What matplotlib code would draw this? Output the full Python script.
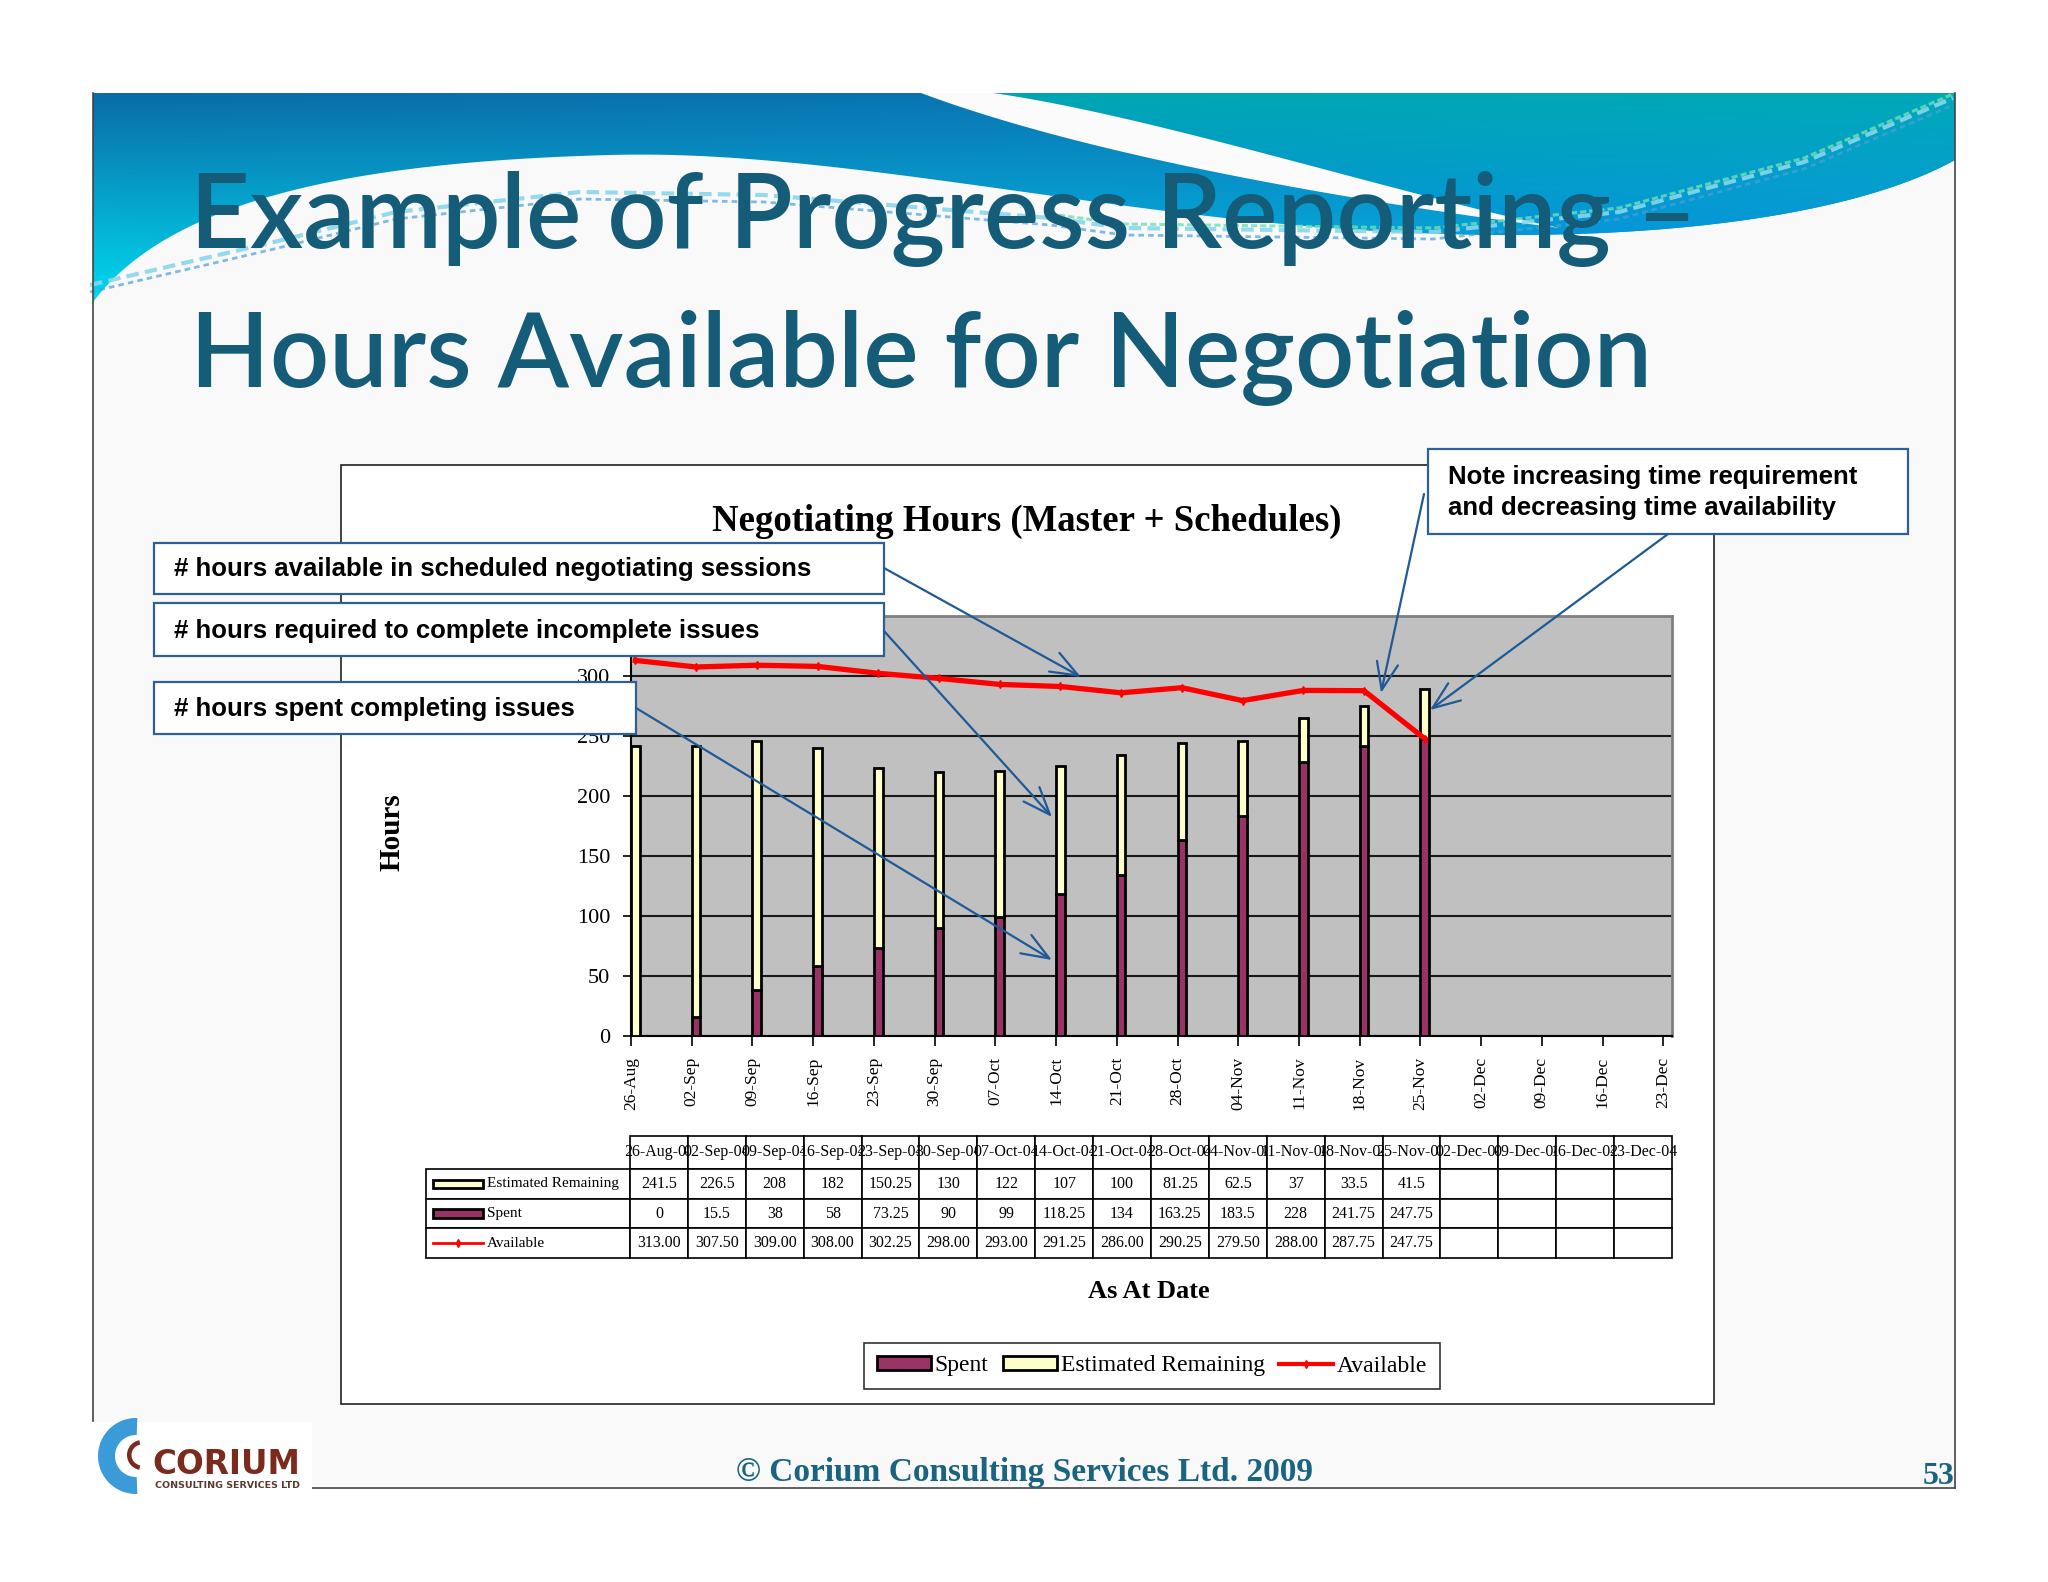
import numpy as np
import matplotlib
matplotlib.use('Agg')
import matplotlib.pyplot as plt
from matplotlib.patches import Polygon, Rectangle, Wedge, Patch
from matplotlib.table import Table
from matplotlib.lines import Line2D
from matplotlib.colors import to_rgb

# ---------------- data ----------------
weeks = ['26-Aug', '02-Sep', '09-Sep', '16-Sep', '23-Sep', '30-Sep', '07-Oct', '14-Oct',
         '21-Oct', '28-Oct', '04-Nov', '11-Nov', '18-Nov', '25-Nov', '02-Dec', '09-Dec',
         '16-Dec', '23-Dec']
year_suffix = '-04'
estimated_remaining = [241.5, 226.5, 208, 182, 150.25, 130, 122, 107, 100, 81.25, 62.5, 37, 33.5, 41.5]
spent = [0, 15.5, 38, 58, 73.25, 90, 99, 118.25, 134, 163.25, 183.5, 228, 241.75, 247.75]
available = [313.00, 307.50, 309.00, 308.00, 302.25, 298.00, 293.00, 291.25, 286.00, 290.25,
             279.50, 288.00, 287.75, 247.75]
y_ticks = [0, 50, 100, 150, 200, 250, 300]
series_names = ['Spent', 'Estimated Remaining', 'Available']

SERIF = 'Liberation Serif'
SANS = 'Liberation Sans'
plt.rcParams['font.family'] = [SERIF, 'DejaVu Sans']

C_SPENT = '#993366'
C_REM = '#FFFFCC'
C_AVAIL = '#FF0000'

W, H = 2048, 1582
fig = plt.figure(figsize=(W / 100, H / 100), dpi=100)
fig.patch.set_facecolor('white')

# ---------------- background / slide ----------------
bg = fig.add_axes([0, 0, 1, 1])
bg.set_zorder(0)
bg.set_xlim(0, W)
bg.set_ylim(H, 0)
bg.axis('off')

bg.add_patch(Rectangle((93, 93), 1862, 1393, fc='#F9F9F9', ec='none', zorder=0))


def bez(p0, c1, c2, p3, n=60):
    t = np.linspace(0, 1, n)[:, None]
    p0, c1, c2, p3 = map(np.array, (p0, c1, c2, p3))
    return (1 - t) ** 3 * p0 + 3 * (1 - t) ** 2 * t * c1 + 3 * (1 - t) * t ** 2 * c2 + t ** 3 * p3


# banner lower boundary (right -> left)
b1 = bez((1955, 160), (1850, 218), (1650, 240), (1450, 234))
b2 = bez((1450, 234), (1150, 228), (850, 148), (610, 155))
b3 = bez((610, 155), (350, 162), (170, 200), (93, 302))
banner = np.vstack([[(93, 93), (1955, 93)], b1, b2, b3])
banner_patch = Polygon(banner, closed=True, fc='none', ec='none')
bg.add_patch(banner_patch)


def grad_img(TL, TR, BL, BR, nx=300, ny=80):
    xs = np.linspace(0, 1, nx)[None, :, None]
    ys = np.linspace(0, 1, ny)[:, None, None]
    TL, TR, BL, BR = (np.array(to_rgb(c)) for c in (TL, TR, BL, BR))
    return (1 - xs) * (1 - ys) * TL + xs * (1 - ys) * TR + (1 - xs) * ys * BL + xs * ys * BR


im1 = bg.imshow(grad_img('#0A6CA6', '#0A7EC0', '#00DDF2', '#05A8E0'),
                extent=[93, 1955, 310, 93], aspect='auto', zorder=1, interpolation='bilinear')
im1.set_clip_path(banner_patch)

# teal region right of swoosh
up_edge = bez((993, 93), (1150, 115), (1400, 195), (1560, 228))
teal = np.vstack([[(1955, 93)], b1[:], bez((1450, 234), (1500, 232), (1530, 230), (1560, 228)),
                  up_edge[::-1]])
teal_patch = Polygon(teal, closed=True, fc='none', ec='none')
bg.add_patch(teal_patch)
im2 = bg.imshow(grad_img('#00A6B2', '#00A9B8', '#0490D8', '#0898DC'),
                extent=[993, 1955, 240, 93], aspect='auto', zorder=1.5, interpolation='bilinear')
im2.set_clip_path(teal_patch)

# white swoosh
low_edge = bez((1560, 228), (1380, 205), (1100, 160), (921, 93))
sw = np.vstack([[(921, 93)], up_edge, low_edge])
bg.add_patch(Polygon(sw, closed=True, fc='#FBFBFB', ec='none', zorder=2))

# decorative dashed lines
dx = np.array([90, 274, 396, 580, 764, 1050, 1124, 1433, 1619, 1804, 1953])
dy = np.array([285, 242, 212, 192, 195, 218, 228, 232, 212, 162, 98])
bg.plot(dx, dy, ls=(0, (3, 1.5)), color='#8AD6EC', lw=3, alpha=0.9, zorder=3)
bg.plot(dx, dy + 7, ls=(0, (2, 1.5)), color='#4C9FDC', lw=2, alpha=0.7, zorder=3)
bg.plot(dx[5:], dy[5:] - 4, ls=(0, (2, 1)), color='#6FE0B0', lw=2.2, alpha=0.8, zorder=3)

# slide borders
bg.plot([93, 93], [93, 1421], color='#444', lw=1.2, zorder=4)
bg.plot([1955, 1955], [93, 1488], color='#444', lw=1.2, zorder=4)
bg.plot([312, 1955], [1488, 1488], color='#444', lw=1.2, zorder=4)

# slide title
TITLE_C = '#145C78'
bg.text(190, 248, 'Example of Progress Reporting \u2013', fontsize=75, family='Lato',
        fontweight='semibold', color=TITLE_C, va='baseline', ha='left', zorder=5)
bg.text(190, 387, 'Hours Available for Negotiation', fontsize=75, family='Lato',
        fontweight='semibold', color=TITLE_C, va='baseline', ha='left', zorder=5)

# chart frame
bg.add_patch(Rectangle((341, 465), 1373, 939, fc='white', ec='#222', lw=1.2, zorder=6))
bg.text(1027, 521, 'Negotiating Hours (Master + Schedules)', ha='center', va='center',
        fontsize=26.5, fontweight='bold', family=SERIF, zorder=7)
bg.text(392, 832, 'Hours', rotation=90, ha='center', va='center', fontsize=21,
        fontweight='bold', family=SERIF, zorder=7)
bg.text(1149, 1292, 'As At Date', ha='center', va='center', fontsize=19,
        fontweight='bold', family=SERIF, zorder=7)

# footer
bg.text(1025, 1472, '\u00a9 Corium Consulting Services Ltd. 2009', ha='center', va='center',
        fontsize=24, fontweight='bold', family=SERIF, color='#1A6482', zorder=7)
bg.text(1955, 1476, '53', ha='right', va='center', fontsize=23, fontweight='bold',
        family=SERIF, color='#1A6482', zorder=7)

# logo
bg.add_patch(Rectangle((85, 1422), 227, 75, fc='white', ec='none', zorder=6))
bg.add_patch(Wedge((136, 1456), 38, 88, 272, width=17, fc='#3B9BD8', ec='none', zorder=7))
bg.add_patch(Wedge((142, 1455), 15, 100, 260, width=4.5, fc='#7B2A1E', ec='none', zorder=7))
bg.text(152, 1474, 'CORIUM', fontsize=23.5, fontweight='bold', family='DejaVu Sans',
        color='#7B2A1E', va='baseline', ha='left', zorder=7)
bg.text(155, 1488, 'CONSULTING SERVICES LTD', fontsize=6.8, fontweight='bold',
        family='DejaVu Sans', color='#5A3A30', va='baseline', ha='left', zorder=7)

# ---------------- chart ----------------
ax = fig.add_axes([631 / W, 1 - 1036 / H, (1672 - 631) / W, (1036 - 616) / H])
ax.set_zorder(2)
ax.set_facecolor('#C0C0C0')
x = np.arange(len(spent))
ax.bar(x, spent, width=1 / 7, align='edge', color=C_SPENT, edgecolor='black', linewidth=2,
       zorder=3, label=series_names[0])
ax.bar(x, estimated_remaining, width=1 / 7, bottom=spent, align='edge', color=C_REM,
       edgecolor='black', linewidth=2, zorder=3, label=series_names[1])
ax.plot(np.arange(len(available)) + 1 / 14, available, color=C_AVAIL, lw=3.8, marker='d',
        ms=4, zorder=4, label=series_names[2])
ax.set_xlim(0, len(weeks) - 1 + 1 / 7)
ax.set_ylim(0, 350)
ax.set_yticks(y_ticks)
ax.set_xticks(np.arange(len(weeks)))
ax.set_xticklabels(weeks, rotation=90)
ax.yaxis.grid(True, color='#1A1A1A', lw=1.5)
ax.set_axisbelow(True)
ax.tick_params(axis='y', labelsize=16, length=6, width=1.2, pad=9)
ax.tick_params(axis='x', labelsize=12.5, length=7, width=1.2, pad=8)
for s in ('top', 'right'):
    ax.spines[s].set_color('#808080')
    ax.spines[s].set_linewidth(2)
for s in ('left', 'bottom'):
    ax.spines[s].set_color('black')
    ax.spines[s].set_linewidth(1.5)

# ---------------- data table ----------------
T_L, T_R, T_T, T_B = 426, 1672, 1136, 1258
tax = fig.add_axes([T_L / W, 1 - T_B / H, (T_R - T_L) / W, (T_B - T_T) / H])
tax.set_zorder(2)
tax.axis('off')
tw, th = T_R - T_L, T_B - T_T
lab_w = 204 / tw
col_w = (1 - lab_w) / len(weeks)
hdr_h = 33 / th
row_h = (1 - hdr_h) / 3
tbl = Table(tax, bbox=[lab_w, 0, 1 - lab_w, 1])
for j, wk in enumerate(weeks):
    tbl.add_cell(0, j, width=col_w, height=hdr_h, text=wk + year_suffix, loc='center',
                 facecolor='white')
rows = [(series_names[1], [f'{v:g}' for v in estimated_remaining]),
        (series_names[0], [f'{v:g}' for v in spent]),
        (series_names[2], [f'{v:.2f}' for v in available])]
for i, (lab, vals) in enumerate(rows, start=1):
    c = tbl.add_cell(i, -1, width=lab_w, height=row_h, text=lab, loc='left', facecolor='white')
    c.PAD = 61 / 204
    for j in range(len(weeks)):
        tbl.add_cell(i, j, width=col_w, height=row_h, text=vals[j] if j < len(vals) else '',
                     loc='center', facecolor='white')
tbl.auto_set_font_size(False)
tbl.set_fontsize(11.5)
for (r, cidx), cell in tbl.get_celld().items():
    cell.set_linewidth(1.2)
    cell.set_edgecolor('black')
    cell.get_text().set_fontfamily(SERIF)
    if cidx == -1:
        cell.get_text().set_fontsize(11)
tbl.set_clip_on(False)
tax.add_table(tbl)

kx0, kw, kh = 0.0056, 0.0401, 0.066
row_c = {1: 1 - hdr_h - row_h / 2, 2: 1 - hdr_h - 1.5 * row_h, 3: row_h / 2}
tax.add_patch(Rectangle((kx0, row_c[1] - kh / 2), kw, kh, transform=tax.transAxes, fc=C_REM,
                        ec='black', lw=2, clip_on=False, zorder=10))
tax.add_patch(Rectangle((kx0, row_c[2] - kh / 2), kw, kh, transform=tax.transAxes, fc=C_SPENT,
                        ec='black', lw=2, clip_on=False, zorder=10))
tax.add_line(Line2D([kx0, kx0 + kw], [row_c[3], row_c[3]], transform=tax.transAxes,
                    color=C_AVAIL, lw=2, zorder=10, clip_on=False))
tax.add_line(Line2D([kx0 + kw / 2], [row_c[3]], transform=tax.transAxes, color=C_AVAIL,
                    marker='d', ms=4, zorder=10, clip_on=False))

# ---------------- legend ----------------
handles = [Patch(fc=C_SPENT, ec='black', lw=2), Patch(fc=C_REM, ec='black', lw=2),
           Line2D([], [], color=C_AVAIL, lw=3, marker='d', ms=4)]
leg = fig.legend(handles, series_names, loc='center', bbox_to_anchor=(1152 / W, 1 - 1366 / H),
                 ncol=3, frameon=True, fancybox=False, edgecolor='black',
                 prop=dict(family=SERIF, size=17), handlelength=2.3, handleheight=0.55,
                 handletextpad=0.15, columnspacing=0.6, borderpad=0.55)
leg.get_frame().set_linewidth(1.2)

# ---------------- callouts overlay ----------------
ov = fig.add_axes([0, 0, 1, 1])
ov.set_zorder(10)
ov.set_xlim(0, W)
ov.set_ylim(H, 0)
ov.axis('off')
ov.patch.set_alpha(0)

BOX_EC = '#2F5F98'
ARW_C = '#1F5A96'
boxes = [((154, 543, 730, 51), ['# hours available in scheduled negotiating sessions'], [569]),
         ((154, 603, 730, 53), ['# hours required to complete incomplete issues'], [631]),
         ((154, 682, 482, 52), ['# hours spent completing issues'], [709]),
         ((1428, 449, 480, 85), ['Note increasing time requirement',
                                 'and decreasing time availability'], [477, 508])]
for (bx, by, bw, bh), lines, ys in boxes:
    ov.add_patch(Rectangle((bx, by), bw, bh, fc='white', ec=BOX_EC, lw=1.6, zorder=5))
    for t, ty in zip(lines, ys):
        ov.text(bx + 20, ty, t, fontsize=18.5, fontweight='bold', family=SANS,
                ha='left', va='center', zorder=6)

arrows = [((884, 568), (1081, 677)), ((884, 631), (1052, 817)), ((636, 708), (1052, 960)),
          ((1424, 494), (1381, 693)), ((1668, 534), (1430, 710))]
for (sx, sy), (ex, ey) in arrows:
    ov.annotate('', xy=(ex, ey), xytext=(sx, sy),
                arrowprops=dict(arrowstyle='->,head_length=0.9,head_width=0.35', color=ARW_C,
                                lw=1.6, shrinkA=0, shrinkB=0, mutation_scale=22), zorder=7)

fig.savefig('out.png', dpi=100, facecolor='white')
